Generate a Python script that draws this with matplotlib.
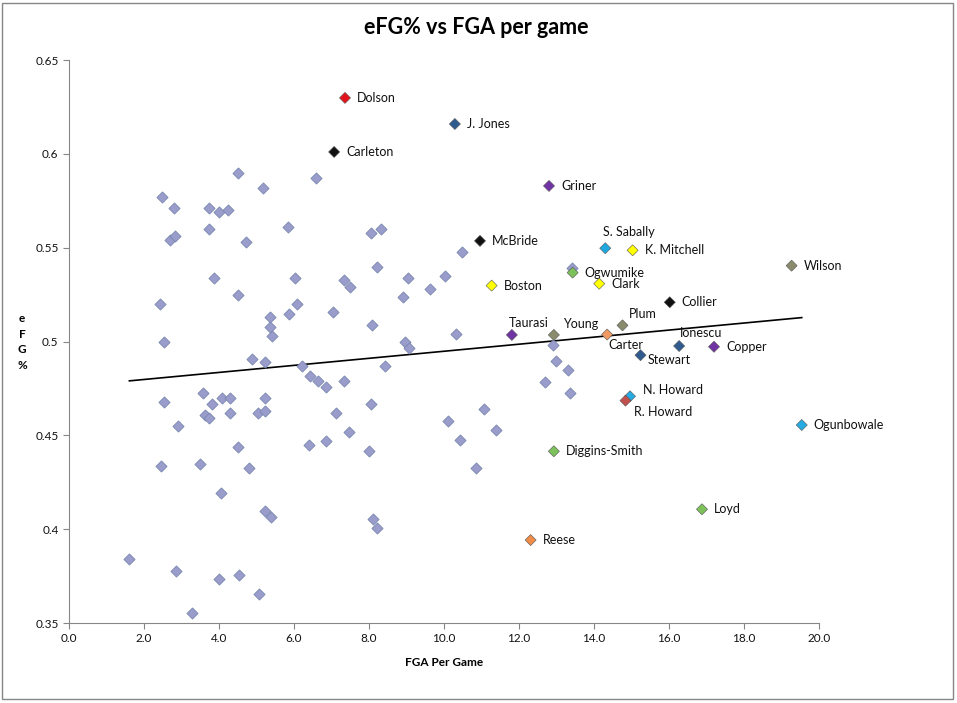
import matplotlib.pyplot as plt
from matplotlib.patches import Rectangle
from matplotlib.ticker import FuncFormatter
import numpy as np

# unlabeled players (FGA per game, eFG%)
other_fga = [2.47, 2.81, 4.51, 5.18, 6.58, 3.73, 4.01, 4.23, 3.73, 5.85,
             2.70, 2.83, 4.71, 3.87, 6.03, 2.43, 4.51, 6.08, 5.36, 5.87,
             5.36, 5.41, 2.54, 4.89, 5.23, 6.22, 6.43, 6.64, 3.57, 2.54,
             3.81, 4.08, 4.30, 5.22, 3.63, 3.73, 4.30, 5.05, 5.23, 2.91,
             4.51, 6.41, 2.46, 3.49, 4.81, 4.05, 5.22, 5.39, 1.61, 2.85,
             3.99, 4.54, 5.07, 3.29, 8.05, 8.33, 10.48, 7.33, 7.49, 8.21,
             9.05, 10.03, 9.63, 8.91, 7.05, 8.09, 10.32, 8.96, 9.07, 6.86,
             7.34, 8.43, 7.13, 8.06, 7.47, 6.86, 8.01, 10.11, 10.43, 11.07,
             11.38, 10.86, 8.11, 8.21, 13.42, 12.91, 12.99, 13.31, 12.69, 13.37]
other_efg = [0.5768, 0.5710, 0.5896, 0.5816, 0.5870, 0.5710, 0.5688, 0.5699, 0.5598, 0.5609,
             0.5539, 0.5561, 0.5529, 0.5337, 0.5337, 0.5198, 0.5246, 0.5198, 0.5129, 0.5147,
             0.5077, 0.5029, 0.4996, 0.4905, 0.4889, 0.4871, 0.4816, 0.4787, 0.4726, 0.4676,
             0.4665, 0.4697, 0.4697, 0.4697, 0.4608, 0.4594, 0.4617, 0.4617, 0.4630, 0.4548,
             0.4436, 0.4448, 0.4335, 0.4346, 0.4324, 0.4194, 0.4095, 0.4063, 0.3843, 0.3776,
             0.3733, 0.3754, 0.3653, 0.3552, 0.5577, 0.5598, 0.5475, 0.5328, 0.5289, 0.5395,
             0.5337, 0.5347, 0.5278, 0.5236, 0.5157, 0.5086, 0.5038, 0.4996, 0.4967, 0.4758,
             0.4788, 0.4869, 0.4619, 0.4667, 0.4518, 0.4470, 0.4417, 0.4575, 0.4475, 0.4639,
             0.4527, 0.4324, 0.4054, 0.4005, 0.5392, 0.4981, 0.4895, 0.4847, 0.4786, 0.4726]

# labeled players
names = ["Dolson", "J. Jones", "Carleton", "Griner", "McBride", "S. Sabally",
         "K. Mitchell", "Ogwumike", "Clark", "Boston", "Collier", "Wilson",
         "Plum", "Taurasi", "Young", "Carter", "Ionescu", "Copper", "Stewart",
         "N. Howard", "R. Howard", "Diggins-Smith", "Ogunbowale", "Loyd", "Reese"]
fga = [7.36, 10.29, 7.07, 12.80, 10.96, 14.30, 15.03, 13.43, 14.14, 11.27,
       16.02, 19.27, 14.76, 11.81, 12.93, 14.35, 16.27, 17.20, 15.24,
       14.96, 14.84, 12.93, 19.54, 16.88, 12.31]
efg = [0.6298, 0.6159, 0.6010, 0.5829, 0.5536, 0.5497, 0.5486, 0.5367, 0.5308, 0.5298,
       0.5209, 0.5404, 0.5086, 0.5035, 0.5035, 0.5037, 0.4976, 0.4972, 0.4927,
       0.4708, 0.4685, 0.4415, 0.4555, 0.4106, 0.3942]

# marker colours per team
colors = ["#e3131c", "#2f5b8e", "#111111", "#7033a3", "#111111", "#1fa8e0",
          "#ffff00", "#7cc15a", "#ffff00", "#ffff00", "#111111", "#8a8a6c",
          "#8a8a6c", "#7033a3", "#8a8a6c", "#ee9a62", "#2f5b8e", "#7033a3", "#2f5b8e",
          "#26aae2", "#c0504d", "#7cc15a", "#26aae2", "#7cc15a", "#f08c4a"]

# trend line as shown on the chart (slope, intercept)
trend_slope = 0.00188
trend_intercept = 0.4760

# label offsets in pixels (dx, dy) where they are not just to the right
label_offsets = {
    "S. Sabally": (-2, 16), "Plum": (6, 11), "Taurasi": (-3, 12),
    "Young": (9, 11), "Carter": (1, -10), "Ionescu": (1, 13),
    "Stewart": (7, -5), "N. Howard": (13, 6), "R. Howard": (8, -11),
}

plt.rcParams['font.family'] = ['Lato', 'DejaVu Sans']

fig = plt.figure(figsize=(9.57, 7.03), dpi=100)
ax = fig.add_axes([69 / 957, 1 - 623 / 703, 750 / 957, 563 / 703])

ax.scatter(other_fga, other_efg, marker="D", s=32, color="#9a9ccb",
           edgecolors="#7888b0", linewidths=0.6, zorder=3)
ax.scatter(fga, efg, marker="D", s=32, c=colors, edgecolors="#555555",
           linewidths=0.4, zorder=4)

for name, x, y in zip(names, fga, efg):
    dx, dy = label_offsets.get(name, (12, 0))
    ax.annotate(name, (x, y), xytext=(dx * 0.72, dy * 0.72), textcoords="offset points",
                ha="left", va="center", fontsize=9, color="#111111")

# linear trend line across the range of the data
all_x = np.array(other_fga + fga)
tx = np.array([all_x.min(), all_x.max()])
ax.plot(tx, trend_slope * tx + trend_intercept, color="black", linewidth=1.2, zorder=2)

ax.set_xlim(0, 20)
ax.set_ylim(0.35, 0.65)
ax.set_xticks(np.arange(0, 20.1, 2))
ax.set_yticks(np.arange(0.35, 0.651, 0.05))
ax.xaxis.set_major_formatter(FuncFormatter(lambda v, p: "%.1f" % v))
ax.yaxis.set_major_formatter(FuncFormatter(lambda v, p: "%g" % round(v, 2)))
ax.tick_params(direction="out", length=4, color="#868686", labelsize=8.5, labelcolor="#111111")
for side in ["top", "right"]:
    ax.spines[side].set_visible(False)
for side in ["left", "bottom"]:
    ax.spines[side].set_color("#868686")

ax.set_xlabel("FGA Per Game", fontsize=8.5, fontweight="bold", labelpad=9)
fig.text(22 / 957, 1 - 342 / 703, "e\nF\nG\n%", ha="center", va="center",
         fontsize=8.5, fontweight="bold", linespacing=1.55)
fig.text(476 / 957, 1 - 27 / 703, "eFG% vs FGA per game", ha="center", va="center",
         fontsize=15.5, fontweight="bold")

# chart border
fig.patches.append(Rectangle((0.002, 0.006), 0.994, 0.99, transform=fig.transFigure,
                             fill=False, edgecolor="#868686", linewidth=1))

fig.savefig("out.png", dpi=100)
